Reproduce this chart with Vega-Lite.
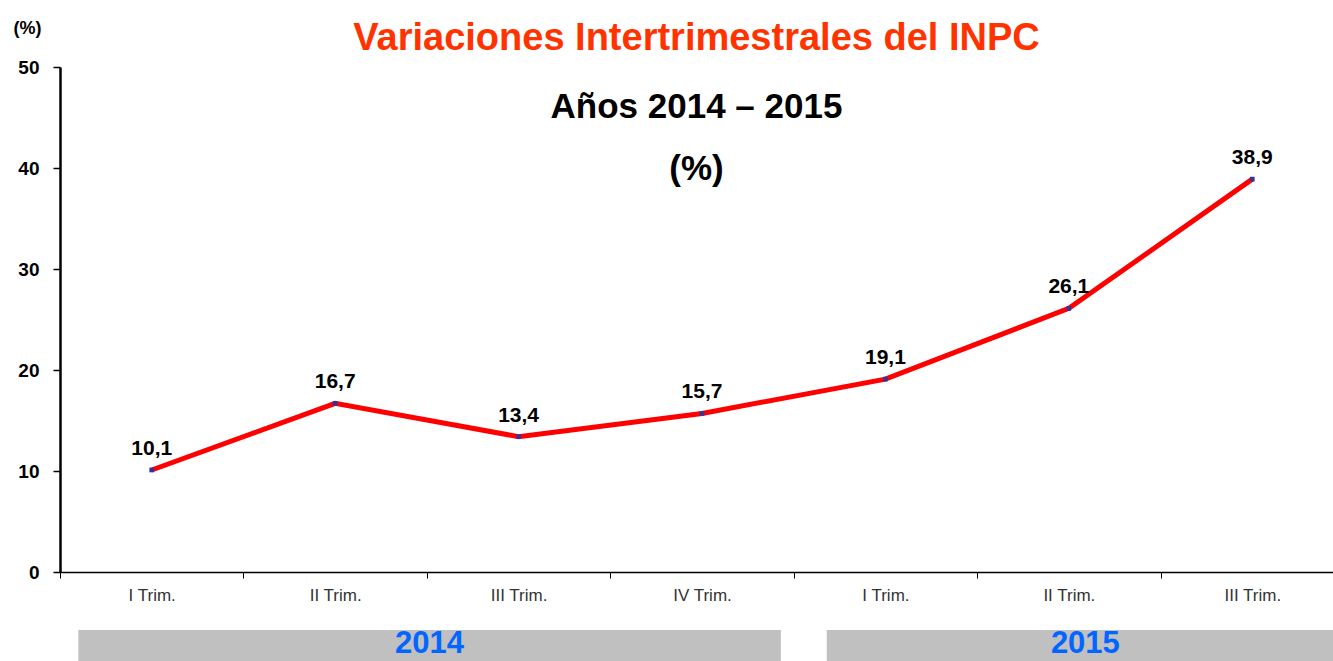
{
  "$schema": "https://vega.github.io/schema/vega-lite/v6.json",
  "width": 1273,
  "height": 505,
  "autosize": {"type": "none"},
  "padding": {"left": 60, "top": 67, "right": 0, "bottom": 89},
  "background": "white",
  "config": {
    "font": "Liberation Sans",
    "view": {"stroke": null},
    "locale": {"number": {"decimal": ",", "thousands": ".", "grouping": [3], "currency": ["", " €"]}}
  },
  "title": {
    "text": "Variaciones Intertrimestrales del INPC",
    "subtitle": ["Años 2014 – 2015", "(%)"],
    "font": "Liberation Sans",
    "fontSize": 38,
    "fontWeight": "bold",
    "color": "#FF3300",
    "subtitleFont": "Liberation Sans",
    "subtitleFontSize": 35,
    "subtitleFontWeight": "bold",
    "subtitleColor": "#000000",
    "subtitleLineHeight": 62,
    "subtitlePadding": 32,
    "anchor": "middle",
    "frame": "group",
    "offset": -168
  },
  "datasets": {
    "quarters": [
      {"q": "2014|I Trim.", "year": "2014", "value": 10.1},
      {"q": "2014|II Trim.", "year": "2014", "value": 16.7},
      {"q": "2014|III Trim.", "year": "2014", "value": 13.4},
      {"q": "2014|IV Trim.", "year": "2014", "value": 15.7},
      {"q": "2015|I Trim.", "year": "2015", "value": 19.1},
      {"q": "2015|II Trim.", "year": "2015", "value": 26.1},
      {"q": "2015|III Trim.", "year": "2015", "value": 38.9}
    ],
    "years": [
      {"year": "2014", "start": 0.1, "end": 3.93},
      {"year": "2015", "start": 4.18, "end": 7}
    ]
  },
  "layer": [
    {
      "data": {"name": "years"},
      "transform": [{"calculate": "(datum.start + datum.end) / 2", "as": "mid"}],
      "layer": [
        {
          "mark": {"type": "rect", "color": "#C0C0C0"},
          "encoding": {
            "x": {"field": "start", "type": "quantitative", "scale": {"domain": [0, 7], "range": [0, 1284], "nice": false, "zero": false}, "axis": null},
            "x2": {"field": "end"},
            "y": {"datum": -5.74, "type": "quantitative", "scale": {"domain": [0, 50], "nice": false}, "axis": null},
            "y2": {"datum": -9.2}
          }
        },
        {
          "mark": {"type": "text", "fontSize": 31, "fontWeight": "bold", "color": "#0066FF", "baseline": "middle", "align": "center"},
          "encoding": {
            "x": {"field": "mid", "type": "quantitative", "scale": {"domain": [0, 7], "range": [0, 1284], "nice": false, "zero": false}, "axis": null},
            "y": {"datum": -7.15, "type": "quantitative", "scale": {"domain": [0, 50], "nice": false}, "axis": null},
            "text": {"field": "year"}
          }
        }
      ]
    },
    {
      "data": {"name": "quarters"},
      "encoding": {
        "x": {
          "field": "q", "type": "nominal", "sort": null,
          "scale": {"range": [0, 1284], "paddingInner": 0, "paddingOuter": 0},
          "axis": {
            "title": null,
            "labelExpr": "split(datum.label, '|')[1]",
            "tickBand": "extent",
            "labelAngle": 0,
            "labelFontSize": 17,
            "labelColor": "#333333",
            "tickSize": 6,
            "tickColor": "#000000",
            "tickWidth": 1,
            "labelPadding": 9,
            "domainColor": "#000000",
            "domainWidth": 1.5
          }
        },
        "y": {
          "field": "value", "type": "quantitative",
          "scale": {"domain": [0, 50], "nice": false},
          "axis": {
            "values": [0, 10, 20, 30, 40, 50],
            "grid": false,
            "title": "(%)",
            "titleAngle": 0,
            "titleX": -33,
            "titleY": -39,
            "titleAlign": "center",
            "titleBaseline": "middle",
            "titleFontSize": 18,
            "titleFontWeight": "bold",
            "titleColor": "#000000",
            "labelFontSize": 19,
            "labelFontWeight": "bold",
            "labelColor": "#000000",
            "tickSize": 7,
            "tickColor": "#000000",
            "tickWidth": 1.5,
            "labelPadding": 14,
            "domainColor": "#000000",
            "domainWidth": 2.5
          }
        }
      },
      "layer": [
        {"mark": {"type": "line", "color": "#FF0000", "strokeWidth": 5}},
        {"mark": {"type": "point", "shape": "square", "filled": true, "color": "#333399", "size": 22, "opacity": 1}},
        {
          "mark": {"type": "text", "fontSize": 21, "fontWeight": "bold", "color": "#000000", "dy": -21, "baseline": "middle"},
          "encoding": {"text": {"field": "value", "type": "quantitative", "format": ".1f"}}
        }
      ]
    }
  ],
  "resolve": {"scale": {"x": "independent", "y": "independent"}, "axis": {"x": "independent", "y": "independent"}}
}
